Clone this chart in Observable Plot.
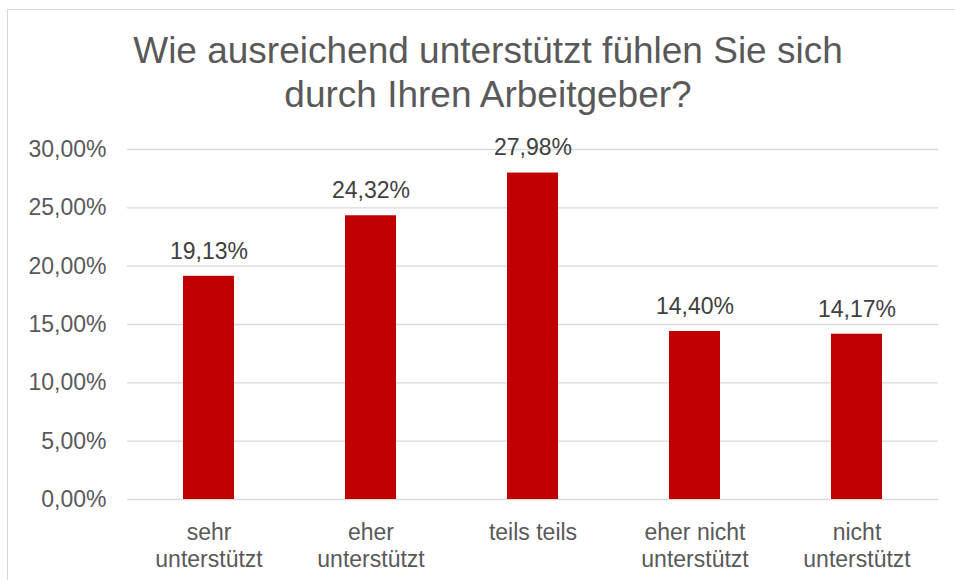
<!DOCTYPE html>
<html>
<head>
<meta charset="utf-8">
<script src="https://cdn.jsdelivr.net/npm/d3@7"></script>
<script src="https://cdn.jsdelivr.net/npm/@observablehq/plot@0.6"></script>
<style>
  body { margin: 0; background: #fff; font-family: "Liberation Sans", Arial, sans-serif; }
  #wrap { position: relative; width: 955px; height: 580px; overflow: hidden; }
  #frame { position: absolute; left: 7px; top: 9px; width: 1000px; height: 600px;
           border-top: 1px solid #d9d9d9; border-left: 1px solid #d9d9d9; }
  #title { position: absolute; left: 8px; top: 29px; width: 960px; text-align: center;
           font-size: 37px; line-height: 44px; color: #595959; }
  #chart { position: absolute; left: 0; top: 120px; }
</style>
</head>
<body>
<div id="wrap">
  <div id="frame"></div>
  <div id="title">Wie ausreichend unterstützt fühlen Sie sich<br>durch Ihren Arbeitgeber?</div>
  <div id="chart"></div>
</div>
<script>
const categories = ["sehr\nunterstützt", "eher\nunterstützt", "teils teils", "eher nicht\nunterstützt", "nicht\nunterstützt"];
const values = [19.13, 24.32, 27.98, 14.40, 14.17];
const yTicks = [0, 5, 10, 15, 20, 25, 30];

const data = categories.map((c, i) => ({category: c, value: values[i]}));
const fmt = v => v.toFixed(2).replace(".", ",") + "%";

const plot = Plot.plot({
  width: 955,
  height: 460,
  marginTop: 29,
  marginBottom: 81,
  marginLeft: 127,
  marginRight: 17,
  style: {fontFamily: "'Liberation Sans', Arial, sans-serif", fontSize: "23px", background: "transparent"},
  x: {domain: categories, paddingInner: 0.685, paddingOuter: 0.3425, label: null},
  y: {domain: [0, 30], label: null},
  marks: [
    Plot.gridY(yTicks, {stroke: "#d9d9d9", strokeOpacity: 1, strokeWidth: 1.3}),
    Plot.barY(data, {x: "category", y: "value", fill: "#C00000"}),
    Plot.text(data, {x: "category", y: "value", text: d => fmt(d.value), lineAnchor: "middle", dy: -25, fill: "#404040", fontSize: 23}),
    Plot.axisY(yTicks, {tickSize: 0, tickPadding: 21, tickFormat: fmt, fill: "#595959", fontSize: 23, label: null}),
    Plot.axisX({tickSize: 0, tickPadding: 21, fill: "#595959", fontSize: 23, lineHeight: 1.17, label: null})
  ]
});
document.getElementById("chart").appendChild(plot);
</script>
</body>
</html>
